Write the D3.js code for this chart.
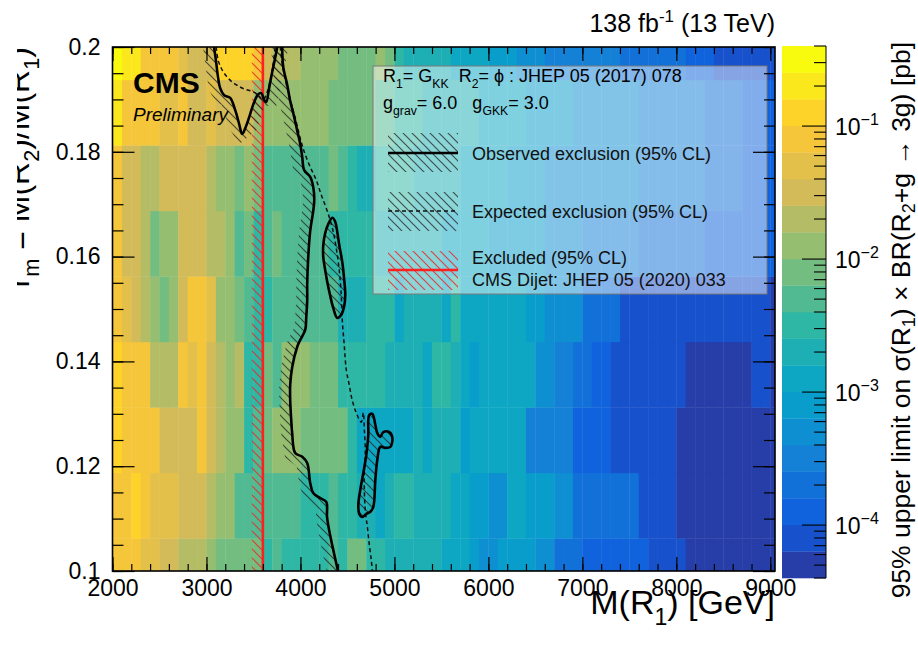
<!DOCTYPE html>
<html><head><meta charset="utf-8">
<script src="https://cdn.jsdelivr.net/npm/d3@7"></script>
<style>
body{margin:0;background:#fff;}
text{font-family:"Liberation Sans",Arial,Helvetica,sans-serif;}
</style>
</head><body>
<svg id="chart" width="918" height="650"></svg>
<script>
// ---------------- DATA ----------------
// lower edges of the 100 GeV mass bins
const massBinLow = [2000,2100,2200,2300,2400,2500,2600,2700,2800,2900,
  3000,3100,3200,3300,3400,3500,3600,3700,3800,3900,
  4000,4100,4200,4300,4400,4500,4600,4700,4800,4900,
  5000,5100,5200,5300,5400,5500,5600,5700,5800,5900,
  6000,6100,6200,6300,6400,6500,6600,6700,6800,6900,
  7000,7100,7200,7300,7400,7500,7600,7700,7800,7900,
  8000,8100,8200,8300,8400,8500,8600,8700,8800,8900,9000];
const massBinWidth = 100;
// mass ratio points r_m = M(R2)/M(R1)
const ratios = [0.1, 0.1125, 0.125, 0.1375, 0.15, 0.1625, 0.175, 0.1875, 0.2];
const ratioStep = 0.0125;
// log10 of the 95% CL upper limit [pb], one array per ratio
const logLimit_r01000 = [-1.1,-1.1,-1.1,-1.3,-1.3,-1.5,-1.5,-1.7,-1.7,-1.7,
  -1.9,-2.1,-2.1,-2.1,-2.1,-2.1,-2.5,-2.3,-2.5,-2.5,
  -2.5,-2.5,-2.5,-2.3,-2.5,-2.1,-2.1,-2.5,-2.5,-2.7,
  -2.7,-2.7,-2.7,-2.7,-2.7,-2.9,-2.9,-2.9,-3.1,-3.3,
  -3.3,-3.1,-3.1,-3.1,-3.1,-3.3,-3.3,-3.7,-3.7,-3.7,
  -3.9,-3.9,-3.9,-3.9,-3.9,-3.9,-3.9,-4.1,-4.1,-4.1,
  -4.1,-4.3,-4.3,-4.3,-4.3,-4.3,-4.3,-4.3,-4.3,-4.3,-4.3];
const logLimit_r01125 = [-1.1,-1.1,-0.9,-1.1,-1.3,-1.3,-1.3,-1.5,-1.5,-1.5,
  -1.7,-1.9,-1.9,-2.3,-2.3,-2.3,-2.3,-2.3,-2.3,-2.3,
  -2.5,-2.5,-2.5,-2.3,-2.5,-2.5,-2.7,-2.7,-2.9,-2.7,
  -2.5,-2.5,-2.7,-2.7,-2.7,-2.7,-2.9,-2.9,-3.1,-3.1,
  -3.3,-3.3,-2.9,-2.9,-3.1,-3.1,-3.1,-3.3,-3.3,-3.7,
  -3.7,-3.7,-3.7,-3.7,-3.7,-3.7,-4.1,-4.1,-4.1,-4.1,
  -4.3,-4.3,-4.3,-4.3,-4.3,-4.3,-4.3,-4.3,-4.3,-4.3,-4.3];
const logLimit_r01250 = [-0.9,-1.1,-1.1,-1.1,-1.1,-1.5,-1.5,-1.5,-1.5,-1.1,
  -1.5,-1.7,-1.9,-1.9,-2.5,-2.3,-2.1,-1.9,-1.9,-1.9,
  -2.1,-2.1,-2.1,-2.1,-2.1,-2.5,-2.9,-2.9,-2.9,-2.9,
  -2.9,-2.9,-2.7,-2.9,-2.7,-2.7,-2.7,-3.1,-2.9,-2.9,
  -2.9,-2.9,-2.9,-2.9,-3.5,-3.5,-3.5,-3.5,-3.5,-3.9,
  -3.9,-3.9,-3.9,-4.1,-4.1,-4.1,-4.1,-4.1,-4.1,-4.1,
  -4.3,-4.3,-4.3,-4.3,-4.3,-4.3,-4.3,-4.3,-4.3,-4.3,-4.3];
const logLimit_r01375 = [-0.9,-1.1,-1.1,-1.1,-1.7,-1.7,-1.7,-1.1,-1.3,-1.1,
  -1.5,-1.7,-1.9,-1.7,-2.5,-2.5,-2.1,-2.3,-1.9,-1.9,
  -1.9,-2.1,-2.1,-2.1,-2.5,-2.5,-2.5,-2.5,-2.5,-2.7,
  -2.7,-2.7,-2.7,-2.9,-2.5,-2.5,-2.7,-2.9,-3.1,-2.9,
  -2.9,-2.9,-2.9,-2.9,-2.9,-3.3,-3.3,-3.5,-3.5,-3.7,
  -3.7,-3.9,-3.9,-4.1,-4.1,-4.1,-4.1,-4.1,-4.1,-4.1,
  -4.1,-4.3,-4.3,-4.3,-4.3,-4.3,-4.3,-4.3,-4.1,-4.1,-4.3];
const logLimit_r01500 = [-1.1,-1.3,-1.5,-1.7,-1.9,-2.1,-1.9,-1.5,-1.1,-1.1,
  -1.3,-1.9,-1.9,-2.1,-2.3,-2.5,-2.5,-2.3,-2.3,-2.3,
  -2.3,-2.3,-2.3,-2.3,-2.7,-2.7,-2.7,-2.5,-2.5,-2.5,
  -2.9,-2.7,-2.7,-2.7,-2.7,-2.9,-2.5,-2.9,-2.9,-2.9,
  -2.9,-2.9,-2.9,-2.9,-3.1,-3.1,-3.3,-3.3,-3.3,-3.3,
  -3.7,-3.7,-3.7,-3.7,-4.1,-4.1,-4.1,-4.1,-4.1,-4.1,
  -4.1,-4.1,-4.1,-4.1,-4.1,-4.1,-4.1,-4.1,-4.1,-4.1,-4.3];
const logLimit_r01625 = [-1.1,-1.5,-1.5,-1.7,-2.1,-1.9,-1.9,-1.5,-1.5,-1.5,
  -1.7,-1.7,-1.9,-2.3,-2.1,-2.5,-2.3,-2.1,-2.3,-2.3,
  -2.3,-2.3,-2.3,-2.5,-2.5,-2.5,-2.5,-2.5,-2.7,-2.7,
  -2.7,-2.7,-2.7,-2.7,-2.7,-2.9,-2.9,-2.9,-2.9,-2.9,
  -3.1,-3.1,-3.1,-3.1,-3.1,-3.1,-3.3,-3.3,-3.3,-3.3,
  -3.5,-3.5,-3.5,-3.5,-3.5,-3.5,-3.7,-3.7,-3.7,-3.7,
  -3.7,-3.7,-3.7,-3.9,-3.9,-3.9,-3.9,-3.9,-3.9,-3.9,-3.9];
const logLimit_r01750 = [-1.1,-1.5,-1.5,-1.7,-1.7,-1.5,-1.5,-1.5,-1.5,-1.5,
  -1.7,-1.9,-1.9,-2.1,-1.9,-2.1,-2.3,-2.3,-2.3,-2.3,
  -2.3,-2.3,-2.3,-2.1,-2.3,-2.5,-2.7,-2.7,-2.5,-2.5,
  -2.5,-2.5,-2.7,-2.7,-2.7,-2.7,-2.7,-2.9,-2.9,-2.9,
  -2.9,-2.9,-3.1,-3.1,-3.1,-3.1,-3.3,-3.3,-3.3,-3.3,
  -3.3,-3.3,-3.3,-3.3,-3.3,-3.3,-3.5,-3.5,-3.5,-3.5,
  -3.5,-3.5,-3.5,-3.7,-3.7,-3.7,-3.7,-3.9,-3.9,-3.9,-3.9];
const logLimit_r01875 = [-0.7,-1.1,-1.1,-1.1,-1.1,-1.3,-1.3,-1.1,-1.5,-1.5,
  -1.3,-1.5,-1.5,-1.5,-1.5,-1.9,-1.9,-1.9,-1.9,-1.9,
  -1.9,-1.9,-1.9,-2.1,-2.1,-2.1,-2.1,-2.1,-2.3,-2.3,
  -2.5,-2.5,-2.5,-2.7,-2.7,-2.7,-2.7,-2.7,-2.7,-2.9,
  -2.9,-2.9,-2.9,-2.9,-3.1,-3.1,-3.1,-3.1,-3.1,-3.3,
  -3.3,-3.3,-3.3,-3.3,-3.3,-3.3,-3.5,-3.5,-3.5,-3.5,
  -3.5,-3.5,-3.5,-3.7,-3.7,-3.7,-3.7,-3.9,-3.9,-3.9,-3.9];
const logLimit_r02000 = [-0.5,-0.7,-0.7,-1.1,-1.1,-1.1,-1.1,-1.3,-1.5,-1.5,
  -1.5,-0.9,-0.9,-0.9,-0.9,-1.1,-1.5,-1.7,-1.7,-1.7,
  -1.9,-1.9,-1.9,-1.9,-2.1,-2.1,-2.1,-2.1,-1.9,-2.1,
  -2.5,-2.7,-2.7,-2.7,-2.7,-2.7,-2.9,-2.9,-2.9,-2.9,
  -3.1,-3.1,-3.1,-3.3,-3.3,-3.3,-3.5,-3.5,-3.5,-3.5,
  -3.5,-3.5,-3.5,-3.5,-3.7,-3.7,-3.7,-3.7,-3.7,-3.7,
  -3.7,-3.9,-3.9,-3.9,-4.1,-4.1,-4.1,-4.1,-4.1,-4.1,-4.1];
const limitRows = [logLimit_r01000, logLimit_r01125, logLimit_r01250, logLimit_r01375,
  logLimit_r01500, logLimit_r01625, logLimit_r01750, logLimit_r01875, logLimit_r02000];

// colour axis
const zMin = 4e-5, zMax = 0.4, nContours = 20;
const zMajorExp = [-4, -3, -2, -1];

// axis ticks
const xTicks = [2000,3000,4000,5000,6000,7000,8000,9000];
const yTicks = [0.1,0.12,0.14,0.16,0.18,0.2];
const xDomain = [2000, 9050];
const yDomain = [0.1, 0.2];

// exclusion contours [M(R1) GeV, r_m]
const obsMain = [[3806,0.2],[3817,0.1962],[3859,0.1928],[3891,0.1897],[3934,0.1866],[3966,0.1840],
  [3998,0.1815],[4019,0.1790],[4040,0.1765],[4104,0.1752],[4136,0.1733],[4147,0.1708],[4136,0.1687],
  [4104,0.1649],[4083,0.1599],[4072,0.1548],[4072,0.1517],[4062,0.1485],[4051,0.1460],[3998,0.1441],
  [3966,0.1428],[3912,0.1389],[3891,0.1355],[3891,0.1326],[3902,0.1288],[3912,0.1263],[3944,0.1225],
  [4019,0.1218],[4072,0.1206],[4104,0.1168],[4136,0.1149],[4211,0.1139],[4275,0.1132],[4283,0.1103],
  [4315,0.1069],[4357,0.1034],[4400,0.1]];
const obsPocket = [[3081,0.2],[3103,0.1971],[3124,0.1941],[3145,0.1922],[3188,0.1908],[3252,0.1903],
  [3305,0.1880],[3348,0.1853],[3380,0.1834],[3422,0.1849],[3465,0.1872],[3508,0.1895],[3551,0.1910],
  [3583,0.1912],[3614,0.1899],[3635,0.1895],[3667,0.1922],[3699,0.1952],[3731,0.1979],[3753,0.2]];
const obsIsland1 = [[4339,0.1674],[4296,0.1662],[4264,0.1645],[4243,0.1622],[4243,0.1599],[4264,0.1574],
  [4285,0.1552],[4317,0.1525],[4349,0.1502],[4392,0.1483],[4434,0.1489],[4466,0.1506],[4477,0.1527],
  [4466,0.1555],[4445,0.1590],[4413,0.1622],[4392,0.1647],[4371,0.1666]];
const obsIsland2 = [[4733,0.1298],[4765,0.1300],[4797,0.1279],[4818,0.1263],[4850,0.1256],[4882,0.1265],
  [4946,0.1265],[4978,0.1254],[4957,0.1237],[4903,0.1235],[4850,0.1237],[4818,0.1212],[4797,0.1174],
  [4775,0.1122],[4744,0.1113],[4701,0.1109],[4658,0.1103],[4626,0.1109],[4616,0.1126],[4637,0.1155],
  [4669,0.1187],[4701,0.1221],[4722,0.1260],[4722,0.1288]];
const expPocket = [[3103,0.2],[3124,0.1975],[3156,0.1960],[3209,0.1945],[3262,0.1935],[3326,0.1927],
  [3401,0.1920],[3476,0.1916],[3540,0.1910],[3603,0.1899],[3646,0.1914],[3678,0.1937],[3710,0.1968],[3731,0.2]];
const expMain = [[3785,0.2],[3817,0.1956],[3880,0.1908],[3944,0.1865],[3998,0.1826],[4040,0.1800],
  [4104,0.1771],[4168,0.1746],[4221,0.1718],[4285,0.1687],[4339,0.1655],[4381,0.1616],[4413,0.1574],
  [4434,0.1527],[4445,0.1479],[4466,0.1431],[4488,0.1384],[4519,0.1355],[4551,0.1326],[4594,0.1302],
  [4647,0.1284],[4669,0.1302],[4680,0.1269],[4690,0.1231],[4680,0.1193],[4680,0.1155],[4690,0.1116],
  [4712,0.1084],[4733,0.1050],[4754,0.1021],[4765,0.1]];
const dijetLimit = 3600; // GeV

// ---------------- LAYOUT ----------------
const svg = d3.select('#chart');
const P = {l:112.5, r:775, t:47, b:571};
const CB = {l:782, r:826, t:46, b:578};
const FONT = '"Liberation Sans",Arial,Helvetica,sans-serif';

const x = d3.scaleLinear().domain(xDomain).range([P.l, P.r]);
const y = d3.scaleLinear().domain(yDomain).range([P.b, P.t]);
const z = d3.scaleLog().domain([zMin, zMax]).range([CB.b, CB.t]);

// kBird palette
const birdStops=[0,0.125,0.25,0.375,0.5,0.625,0.75,0.875,1];
const birdR=[0.2082,0.0592,0.0780,0.0232,0.1802,0.5301,0.8186,0.9956,0.9764];
const birdG=[0.1664,0.3599,0.5041,0.6419,0.7178,0.7492,0.7328,0.7862,0.9832];
const birdB=[0.5293,0.8684,0.8385,0.7914,0.6425,0.4662,0.3499,0.1968,0.0539];
const bird = d3.scaleLinear().domain(birdStops)
  .range(birdStops.map((s,i)=>d3.rgb(birdR[i]*255,birdG[i]*255,birdB[i]*255).toString()))
  .interpolate(d3.interpolateRgb);
const lzMin = Math.log10(zMin), lzMax = Math.log10(zMax);
const lzStep = (lzMax-lzMin)/nContours;
function bandColor(i){ const idx = Math.min(254, Math.floor((i+0.99)*255/nContours)); return bird(idx/254); }
function colorOfLog(l){ let i=Math.floor((l-lzMin)/lzStep); i=Math.max(0,Math.min(nContours-1,i)); return bandColor(i); }

const defs = svg.append('defs');
defs.append('clipPath').attr('id','plotclip').append('rect')
  .attr('x',P.l).attr('y',P.t).attr('width',P.r-P.l).attr('height',P.b-P.t);
defs.append('clipPath').attr('id','ytclip').append('rect')
  .attr('x',17).attr('y',0).attr('width',80).attr('height',650);
function hatch(id,color,op,sw){
  const s=9;
  const p=defs.append('pattern').attr('id',id).attr('patternUnits','userSpaceOnUse').attr('width',s).attr('height',s);
  p.append('path').attr('d',`M0,0L${s},${s}M${-s/2},${s/2}L${s/2},${s*1.5}M${s/2},${-s/2}L${s*1.5},${s/2}`)
    .attr('stroke',color).attr('stroke-width',sw).attr('stroke-opacity',op).attr('fill','none');
}
hatch('hblack','#222',0.75,1.2);
hatch('hred','#f02020',0.8,1.2);

// ---------------- HEATMAP ----------------
const cells=[];
ratios.forEach((r,ri)=>{
  limitRows[ri].forEach((v,ci)=>{
    cells.push({m0:massBinLow[ci], m1:Math.min(massBinLow[ci]+massBinWidth, xDomain[1]),
      r0:Math.max(r-ratioStep/2, yDomain[0]), r1:Math.min(r+ratioStep/2, yDomain[1]), v});
  });
});
const gp = svg.append('g').attr('clip-path','url(#plotclip)');
gp.selectAll('rect.cell').data(cells).join('rect').attr('class','cell')
  .attr('x',d=>x(d.m0)).attr('width',d=>x(d.m1)-x(d.m0)+0.4)
  .attr('y',d=>y(d.r1)).attr('height',d=>y(d.r0)-y(d.r1)+0.4)
  .attr('fill',d=>colorOfLog(d.v));

// ---------------- CONTOURS ----------------
const line = d3.line().x(d=>x(d[0])).y(d=>y(d[1])).curve(d3.curveCatmullRom.alpha(0.5));
const lineClosed = d3.line().x(d=>x(d[0])).y(d=>y(d[1])).curve(d3.curveCatmullRomClosed.alpha(0.5));
function band(pts,w){
  const Q=pts.map(d=>[x(d[0]),y(d[1])]);
  const off=Q.map((p,i)=>{
    const a=Q[Math.max(0,i-1)], b=Q[Math.min(Q.length-1,i+1)];
    const tx=b[0]-a[0], ty=b[1]-a[1], L=Math.hypot(tx,ty)||1;
    return [p[0]-ty/L*w, p[1]+tx/L*w];
  });
  return 'M'+Q.concat(off.reverse()).map(p=>p.join(',')).join('L')+'Z';
}
// dijet exclusion
gp.append('rect').attr('x',x(dijetLimit)-11).attr('y',P.t).attr('width',11).attr('height',P.b-P.t).attr('fill','url(#hred)');
gp.append('line').attr('x1',x(dijetLimit)).attr('x2',x(dijetLimit)).attr('y1',P.t).attr('y2',P.b)
  .attr('stroke','#ff1f1f').attr('stroke-width',2.6);
// hatch bands
gp.append('path').attr('d',band(obsMain,11)).attr('fill','url(#hblack)');
gp.append('path').attr('d',band(obsPocket,11)).attr('fill','url(#hblack)');
gp.append('path').attr('d',lineClosed(obsIsland1)).attr('fill','url(#hblack)');
gp.append('path').attr('d',lineClosed(obsIsland2)).attr('fill','url(#hblack)');
// expected
[expPocket, expMain].forEach(c=>gp.append('path').attr('d',line(c)).attr('fill','none')
  .attr('stroke','#111').attr('stroke-width',1.5).attr('stroke-dasharray','4,3'));
// observed
[obsMain, obsPocket].forEach(c=>gp.append('path').attr('d',line(c)).attr('fill','none')
  .attr('stroke','#000').attr('stroke-width',2.6));
[obsIsland1, obsIsland2].forEach(c=>gp.append('path').attr('d',lineClosed(c)).attr('fill','none')
  .attr('stroke','#000').attr('stroke-width',2.6));

// ---------------- TEXT HELPER ----------------
function rich(sel, parts, fs, subf){
  subf = subf||0.32;
  let shift=0;
  parts.forEach(([t,k])=>{
    const target = k==='sub'? fs*subf : (k==='sup'? -fs*0.42 : 0);
    sel.append('tspan').attr('dy',(target-shift).toFixed(2)).attr('font-size',k==='n'?fs:fs*0.68).text(t);
    shift=target;
  });
  return sel;
}

// ---------------- LEGEND ----------------
const LG = {l:373, t:66, r:767, b:294};
svg.append('rect').attr('x',LG.l).attr('y',LG.t).attr('width',LG.r-LG.l).attr('height',LG.b-LG.t)
  .attr('fill','#ffffff').attr('fill-opacity',0.48).attr('stroke','#7a7a7a').attr('stroke-width',1);
const lfs=18;
rich(svg.append('text').attr('x',383).attr('y',82).attr('font-size',lfs),
  [['R','n'],['1','sub'],['= G','n'],['KK','sub'],['  R','n'],['2','sub'],['= ϕ : JHEP 05 (2017) 078','n']], lfs)
  .attr('xml:space','preserve');
rich(svg.append('text').attr('x',383).attr('y',109).attr('font-size',lfs),
  [['g','n'],['grav','sub'],['= 6.0   g','n'],['GKK','sub'],['= 3.0','n']], lfs).attr('xml:space','preserve');
const entries = [
  {y0:133, ly:153, pat:'url(#hblack)', stroke:'#000', sw:2.6, dash:null, text:['Observed exclusion (95% CL)']},
  {y0:192, ly:211, pat:'url(#hblack)', stroke:'#111', sw:1.5, dash:'4,3', text:['Expected exclusion (95% CL)']},
  {y0:251, ly:270, pat:'url(#hred)', stroke:'#ff1f1f', sw:2.6, dash:null, text:['Excluded (95% CL)','CMS Dijet: JHEP 05 (2020) 033']}
];
entries.forEach(e=>{
  svg.append('rect').attr('x',388).attr('y',e.y0).attr('width',70).attr('height',39).attr('fill',e.pat);
  svg.append('line').attr('x1',388).attr('x2',458).attr('y1',e.ly).attr('y2',e.ly)
    .attr('stroke',e.stroke).attr('stroke-width',e.sw).attr('stroke-dasharray',e.dash);
  if(e.text.length===1){
    svg.append('text').attr('x',472).attr('y',e.ly+6.5).attr('font-size',lfs).attr('fill','#111').text(e.text[0]);
  } else {
    svg.append('text').attr('x',472).attr('y',e.ly-6).attr('font-size',lfs).attr('fill','#111').text(e.text[0]);
    svg.append('text').attr('x',472).attr('y',e.ly+16).attr('font-size',lfs).attr('fill','#111').text(e.text[1]);
  }
});

// ---------------- AXES ----------------
const tfs = 23;
function styleAxis(g){ g.select('.domain').remove(); g.selectAll('line').attr('stroke','#000').attr('stroke-width',1.2);
  g.selectAll('text').attr('font-family',FONT).attr('font-size',tfs).attr('fill','#000'); }
const xMinor = d3.range(xDomain[0], xDomain[1]+1, 200);
const yMinor = d3.range(0.1, 0.2001, 0.005);
svg.append('g').attr('transform',`translate(0,${P.b})`).call(d3.axisBottom(x).tickValues(xMinor).tickSize(-7).tickFormat('')).call(styleAxis);
svg.append('g').attr('transform',`translate(0,${P.b})`).call(d3.axisBottom(x).tickValues(xTicks).tickSize(-14).tickPadding(9).tickFormat(d3.format('d'))).call(styleAxis);
svg.append('g').attr('transform',`translate(0,${P.t})`).call(d3.axisTop(x).tickValues(xMinor).tickSize(-7).tickFormat('')).call(styleAxis);
svg.append('g').attr('transform',`translate(0,${P.t})`).call(d3.axisTop(x).tickValues(xTicks).tickSize(-14).tickFormat('')).call(styleAxis);
svg.append('g').attr('transform',`translate(${P.l},0)`).call(d3.axisLeft(y).tickValues(yMinor).tickSize(-11).tickFormat('')).call(styleAxis);
svg.append('g').attr('transform',`translate(${P.l},0)`).call(d3.axisLeft(y).tickValues(yTicks).tickSize(-22).tickPadding(12).tickFormat(d=>d===0.2?'0.2':(d===0.1?'0.1':d3.format('.2f')(d)))).call(styleAxis);
svg.append('g').attr('transform',`translate(${P.r},0)`).call(d3.axisRight(y).tickValues(yMinor).tickSize(-11).tickFormat('')).call(styleAxis);
svg.append('g').attr('transform',`translate(${P.r},0)`).call(d3.axisRight(y).tickValues(yTicks).tickSize(-22).tickFormat('')).call(styleAxis);
svg.append('rect').attr('x',P.l).attr('y',P.t).attr('width',P.r-P.l).attr('height',P.b-P.t)
  .attr('fill','none').attr('stroke','#000').attr('stroke-width',1.6);

// ---------------- COLOUR BAR ----------------
const cb = svg.append('g');
d3.range(nContours).forEach(i=>{
  const l0=lzMin+i*lzStep, l1=l0+lzStep;
  cb.append('rect').attr('x',CB.l).attr('width',CB.r-CB.l)
    .attr('y',z(Math.pow(10,l1))).attr('height',z(Math.pow(10,l0))-z(Math.pow(10,l1))+0.3)
    .attr('fill',bandColor(i));
});
const zMinor=[];
for(let e=-5;e<=0;e++) for(let k=2;k<=9;k++){ const v=k*Math.pow(10,e); if(v>=zMin && v<=zMax) zMinor.push(v); }
cb.selectAll('line.zmin').data(zMinor).join('line').attr('x1',CB.r).attr('x2',CB.r-12)
  .attr('y1',d=>z(d)).attr('y2',d=>z(d)).attr('stroke','#000').attr('stroke-width',1.1);
cb.selectAll('line.zmaj').data(zMajorExp).join('line').attr('x1',CB.r).attr('x2',CB.r-24)
  .attr('y1',d=>z(Math.pow(10,d))).attr('y2',d=>z(Math.pow(10,d))).attr('stroke','#000').attr('stroke-width',1.1);
cb.append('line').attr('x1',CB.r).attr('x2',CB.r).attr('y1',CB.t).attr('y2',CB.b).attr('stroke','#000').attr('stroke-width',1);
zMajorExp.forEach(e=>{
  const t=cb.append('text').attr('x',CB.r+9).attr('y',z(Math.pow(10,e))+9).attr('font-size',tfs);
  t.append('tspan').text('10');
  t.append('tspan').attr('dy',-10).attr('font-size',16).text('−'+Math.abs(e));
});
const zt = svg.append('text').attr('transform',`translate(910,42) rotate(-90)`).attr('text-anchor','end').attr('font-size',26.5);
rich(zt,[['95% upper limit on σ(R','n'],['1','sub'],[') × BR(R','n'],['2','sub'],['+g → 3g) [pb]','n']],26.5,0.2);

// ---------------- TITLES ----------------
rich(svg.append('text').attr('x',P.r).attr('y',614).attr('text-anchor','end').attr('font-size',34),
  [['M(R','n'],['1','sub'],[') [GeV]','n']],34);
// y title: the reference shows it cut at the left edge
const ytg = svg.append('g').attr('clip-path','url(#ytclip)');
rich(ytg.append('text').attr('transform','translate(29,47) rotate(-90)').attr('text-anchor','end').attr('font-size',32),
  [['r','n'],['m','sub'],[' = M(R','n'],['2','sub'],[')/M(R','n'],['1','sub'],[')','n']],32).attr('xml:space','preserve');
rich(svg.append('text').attr('x',P.r).attr('y',32).attr('text-anchor','end').attr('font-size',25),
  [['138 fb','n'],['-1','sup'],[' (13 TeV)','n']],25).attr('xml:space','preserve');
svg.append('text').attr('x',133).attr('y',93).attr('font-size',30).attr('font-weight','bold').text('CMS');
svg.append('text').attr('x',133).attr('y',121).attr('font-size',19).attr('font-style','italic').text('Preliminary');
</script>
</body></html>
